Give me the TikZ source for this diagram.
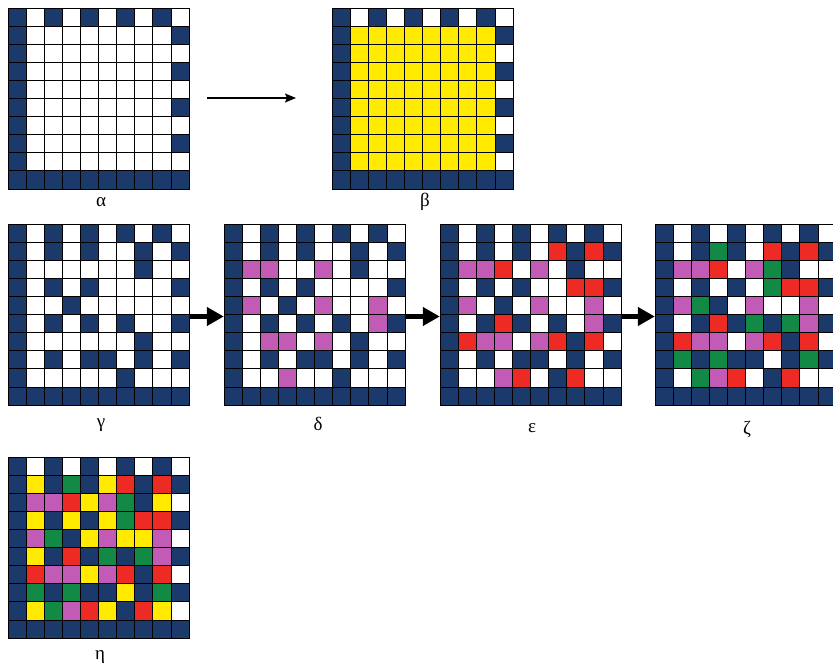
\documentclass[tikz,border=0pt]{standalone}
\usepackage{fontspec}
\setmainfont{Liberation Serif}
\usetikzlibrary{arrows.meta}
\definecolor{cN}{HTML}{1B3A6B}
\definecolor{cW}{HTML}{FFFFFF}
\definecolor{cY}{HTML}{FFEA00}
\definecolor{cP}{HTML}{C25BB5}
\definecolor{cR}{HTML}{EE2A24}
\definecolor{cG}{HTML}{128A45}
\def\cs{18.1}
\tikzset{
  cell/.style={draw=black, line width=0.8pt},
  gridbox/.style={draw=none, inner sep=0pt, minimum size=181pt},
  lab/.style={font=\fontsize{19}{21}\selectfont, anchor=base, inner sep=0pt},
  thinarrow/.style={line width=1.5pt, -{Stealth[length=11pt,width=9pt,inset=2pt]}},
  thickarrow/.style={line width=5.5pt, -{Triangle[length=17pt,width=18pt]}}
}
\newcommand\mygrid[4]{%
  \foreach \rowlist [count=\ri from 0] in {#4} {
    \foreach \cc [count=\ki from 0] in \rowlist {
      \filldraw[cell, fill=c\cc] ({#2+\ki*\cs},{#3+\ri*\cs}) rectangle ++(\cs,\cs);
    }
  }
  \node[gridbox] (#1) at ({#2+5*\cs},{#3+5*\cs}) {};
}
\begin{document}
\begin{tikzpicture}[x=1pt,y=-1pt]
\clip (0,0) rectangle (833,668);
\fill[white] (0,0) rectangle (833,668);
% alpha
\mygrid{ga}{8}{8}{{N,W,N,W,N,W,N,W,N,W},{N,W,W,W,W,W,W,W,W,N},{N,W,W,W,W,W,W,W,W,W},{N,W,W,W,W,W,W,W,W,N},{N,W,W,W,W,W,W,W,W,W},{N,W,W,W,W,W,W,W,W,N},{N,W,W,W,W,W,W,W,W,W},{N,W,W,W,W,W,W,W,W,N},{N,W,W,W,W,W,W,W,W,W},{N,N,N,N,N,N,N,N,N,N}}
% beta
\mygrid{gb}{332}{8}{{N,W,N,W,N,W,N,W,N,W},{N,Y,Y,Y,Y,Y,Y,Y,Y,N},{N,Y,Y,Y,Y,Y,Y,Y,Y,W},{N,Y,Y,Y,Y,Y,Y,Y,Y,N},{N,Y,Y,Y,Y,Y,Y,Y,Y,W},{N,Y,Y,Y,Y,Y,Y,Y,Y,N},{N,Y,Y,Y,Y,Y,Y,Y,Y,W},{N,Y,Y,Y,Y,Y,Y,Y,Y,N},{N,Y,Y,Y,Y,Y,Y,Y,Y,W},{N,N,N,N,N,N,N,N,N,N}}
% gamma
\mygrid{gc}{8}{224}{{N,W,N,W,N,W,N,W,N,W},{N,W,N,W,N,W,W,N,W,N},{N,W,W,W,W,W,W,N,W,W},{N,W,N,W,N,W,W,W,W,N},{N,W,W,N,W,W,W,W,W,W},{N,W,N,W,N,W,N,W,W,N},{N,W,W,W,W,W,W,N,W,W},{N,W,N,W,N,N,W,N,W,N},{N,W,W,W,W,W,N,W,W,W},{N,N,N,N,N,N,N,N,N,N}}
% delta
\mygrid{gd}{224}{224}{{N,W,N,W,N,W,N,W,N,W},{N,W,N,W,N,W,W,N,W,N},{N,P,P,W,W,P,W,N,W,W},{N,W,N,W,N,W,W,W,W,N},{N,P,W,N,W,P,W,W,P,W},{N,W,N,W,N,W,N,W,P,N},{N,W,P,P,W,P,W,N,W,W},{N,W,N,W,N,N,W,N,W,N},{N,W,W,P,W,W,N,W,W,W},{N,N,N,N,N,N,N,N,N,N}}
% epsilon
\mygrid{ge}{440}{224}{{N,W,N,W,N,W,N,W,N,W},{N,W,N,W,N,W,R,N,R,N},{N,P,P,R,W,P,W,N,W,W},{N,W,N,W,N,W,W,R,R,N},{N,P,W,N,W,P,W,W,P,W},{N,W,N,R,N,W,N,W,P,N},{N,R,P,P,W,P,R,N,R,W},{N,W,N,W,N,N,W,N,W,N},{N,W,W,P,R,W,N,R,W,W},{N,N,N,N,N,N,N,N,N,N}}
% zeta
\mygrid{gf}{655}{224}{{N,W,N,W,N,W,N,W,N,W},{N,W,N,G,N,W,R,N,R,N},{N,P,P,R,W,P,G,N,W,W},{N,W,N,W,N,W,G,R,R,N},{N,P,G,N,W,P,W,W,P,W},{N,W,N,R,N,G,N,G,P,N},{N,R,P,P,W,P,R,N,R,W},{N,G,N,G,N,N,W,N,G,N},{N,W,G,P,R,W,N,R,W,W},{N,N,N,N,N,N,N,N,N,N}}
% eta
\mygrid{gg}{8}{457}{{N,W,N,W,N,W,N,W,N,W},{N,Y,N,G,N,Y,R,N,R,N},{N,P,P,R,Y,P,G,N,Y,W},{N,Y,N,Y,N,Y,G,R,R,N},{N,P,G,N,Y,P,Y,Y,P,W},{N,Y,N,R,N,G,N,G,P,N},{N,R,P,P,Y,P,R,N,R,W},{N,G,N,G,N,N,Y,N,G,N},{N,Y,G,P,R,Y,N,R,Y,W},{N,N,N,N,N,N,N,N,N,N}}
% labels
\node[lab] (la) at (101,207) {α};
\node[lab] (lb) at (425,207) {β};
\node[lab] (lc) at (101,427) {γ};
\node[lab] (ld) at (318,430) {δ};
\node[lab] (le) at (532,432) {ε};
\node[lab] (lf) at (747,434) {ζ};
\node[lab] (lg) at (100,659) {η};
% arrows
\coordinate (a1) at (207,98);
\coordinate (a2) at (296,98);
\draw[thinarrow] (a1) -- (a2);
\draw[thickarrow] ([yshift=-2pt]gc.east) -- ([yshift=-2pt]gd.west);
\draw[thickarrow] ([yshift=-2pt]gd.east) -- ([yshift=-2pt]ge.west);
\draw[thickarrow] ([yshift=-2pt]ge.east) -- ([yshift=-2pt]gf.west);
\end{tikzpicture}
\end{document}
